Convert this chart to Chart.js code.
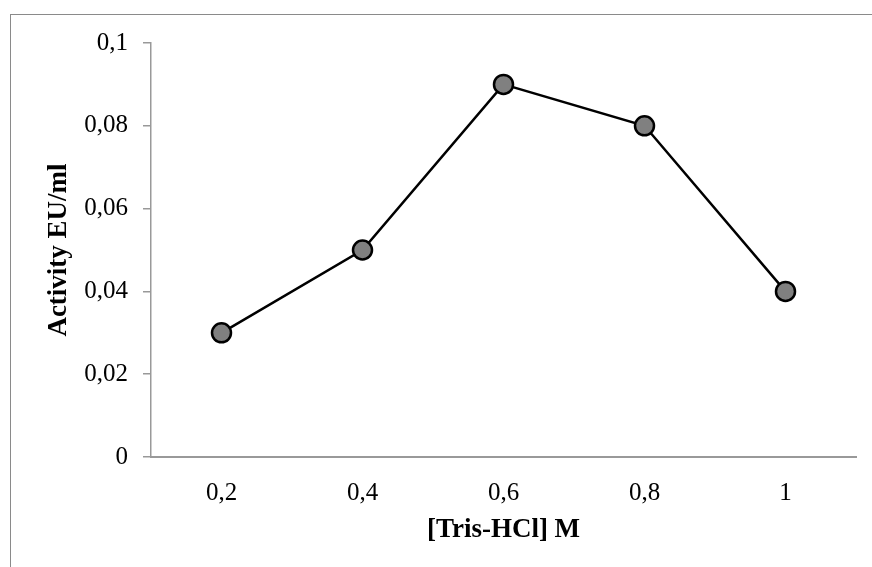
<!DOCTYPE html>
<html>
<head>
<meta charset="utf-8">
<script src="https://cdn.jsdelivr.net/npm/chart.js@4"></script>
<style>
    html, body { margin: 0; padding: 0; background: #fff; }
    #frame {
        position: absolute; left: 10px; top: 14px;
        width: 900px; height: 600px;
        border-left: 1px solid #8a8a8a; border-top: 1px solid #8a8a8a;
    }
    #wrap { position: absolute; left: 0; top: 0; width: 872px; height: 567px; }
</style>
</head>
<body>
<div id="frame"></div>
<div id="wrap"><canvas id="chart" width="872" height="567"></canvas></div>
<script>
// data
const concentrations = ['0,2', '0,4', '0,6', '0,8', '1'];
const activity = [0.03, 0.05, 0.09, 0.08, 0.04];
const yTicks = [0, 0.02, 0.04, 0.06, 0.08, 0.1];

const serif = 'Liberation Serif';

function fmtComma(v) {
    return String(Math.round(v * 1000) / 1000).replace('.', ',');
}

const ctx = document.getElementById('chart').getContext('2d');
new Chart(ctx, {
    type: 'line',
    data: {
        labels: concentrations,
        datasets: [{
            data: activity,
            borderColor: '#000',
            borderWidth: 2.5,
            pointRadius: 9.5,
            pointBorderWidth: 2.5,
            pointBackgroundColor: '#808080',
            pointBorderColor: '#000',
            tension: 0,
            fill: false,
        }],
    },
    options: {
        responsive: false,
        animation: false,
        plugins: { legend: { display: false }, tooltip: { enabled: false } },
        layout: { padding: { top: 43, right: 16, left: 0, bottom: 0 } },
        scales: {
            x: {
                offset: true,
                grid: { display: false },
                border: { display: true, color: '#999', width: 2 },
                ticks: { padding: 13, color: '#000', font: { family: serif, size: 25 } },
                title: {
                    display: true, text: '[Tris-HCl] M', color: '#000',
                    font: { family: serif, size: 27, weight: 'bold' },
                    padding: { top: 0, bottom: 21 },
                },
                afterFit: s => { s.height = 110; },
            },
            y: {
                min: 0, max: 0.1,
                afterBuildTicks: s => { s.ticks = yTicks.map(v => ({ value: v })); },
                grid: { drawOnChartArea: false, drawTicks: true, tickLength: 8, color: '#999', lineWidth: 1.5 },
                border: { display: true, color: '#999', width: 1.5 },
                ticks: {
                    padding: 15, color: '#000', font: { family: serif, size: 25 },
                    callback: v => fmtComma(v),
                },
                title: {
                    display: true, text: 'Activity EU/ml', color: '#000',
                    font: { family: serif, size: 27, weight: 'bold' },
                    padding: { top: 43, bottom: 0 },
                },
                afterFit: s => { s.width = 151; },
            },
        },
    },
});
</script>
</body>
</html>
